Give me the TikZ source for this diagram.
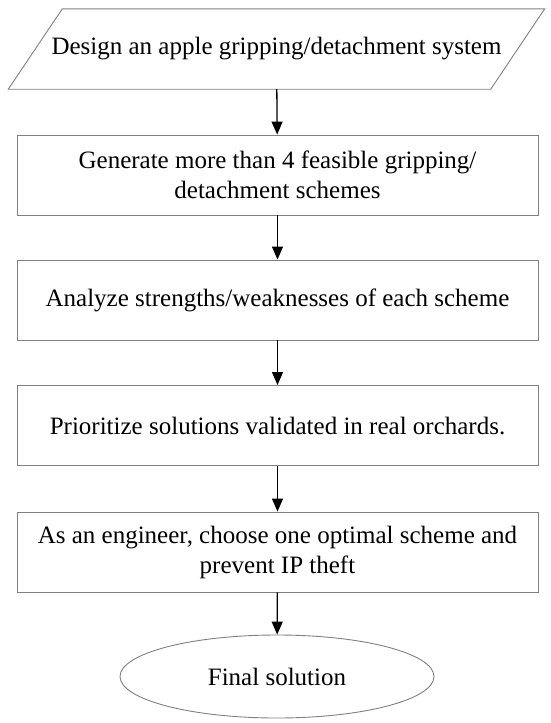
\documentclass[tikz,border=0pt]{standalone}
\usepackage{fontspec}
\setmainfont{Liberation Serif}
\usetikzlibrary{shapes.geometric}
\usetikzlibrary{arrows.meta}

\begin{document}
\begin{tikzpicture}[x=1pt,y=-1pt,
        outline/.style={draw=black!50,line width=0.9pt},
        stage/.style={outline,rectangle,inner sep=0pt,minimum width=521pt,minimum height=80pt,align=center,font=\fontsize{25}{30}\selectfont},
        start/.style={rectangle,inner sep=0pt,minimum width=482pt,minimum height=80pt,font=\fontsize{25}{30}\selectfont},
        finish/.style={outline,ellipse,inner sep=0pt,minimum width=314pt,minimum height=83pt,font=\fontsize{25}{30}\selectfont},
        flow/.style={-{Triangle[length=13pt,width=11pt]},line width=1.3pt,black}
      ]
      \useasboundingbox (0,0) rectangle (550,723);
      \node[start] (design) at (276.5,49) {Design an apple gripping/detachment system};
      \draw[outline] ([xshift=-27pt]design.south west) -- ([xshift=27pt]design.north west)
        -- ([xshift=27pt]design.north east) -- ([xshift=-27pt]design.south east) -- cycle;
      \node[stage] (generate) at (277.5,175) {Generate more than 4 feasible gripping/\\detachment schemes};
      \node[stage] (analyze) at (277.5,300) {Analyze strengths/weaknesses of each scheme};
      \node[stage] (prioritize) at (277.5,425.5) {Prioritize solutions validated in real orchards.};
      \node[stage] (choose) at (277.5,552) {As an engineer, choose one optimal scheme and\\prevent IP theft};
      \node[finish] (final) at (277,676.5) {Final solution};
      % Connections.
      \draw[flow] (design) -- (generate);
      \draw[flow] (generate) -- (analyze);
      \draw[flow] (analyze) -- (prioritize);
      \draw[flow] (prioritize) -- (choose);
      \draw[flow] (choose) -- (final);
    \end{tikzpicture}
\end{document}
